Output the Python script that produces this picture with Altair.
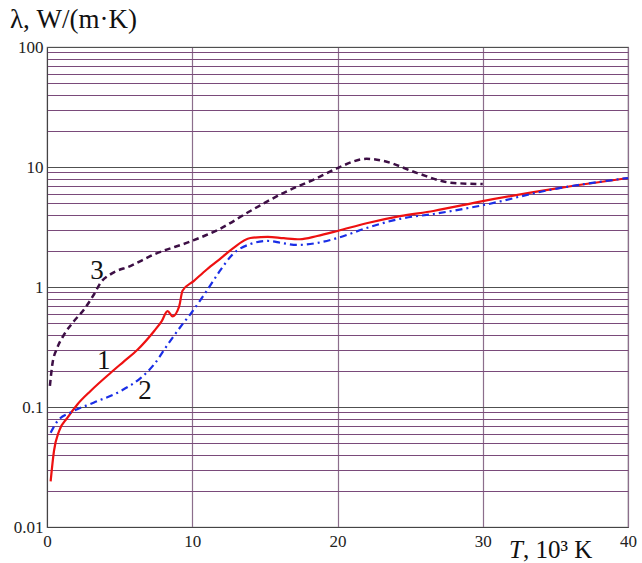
import altair as alt
import pandas as pd

# Curve 1 (red, solid)
c1_x = [0.25, 0.48, 0.83, 1.4, 2.09, 3.0, 4.39, 5.3, 6.23, 7.38, 7.9, 8.3, 8.64, 9.1, 9.33, 10.1, 11.0, 12.0, 12.8, 14.0, 15.2, 16.3, 17.4, 18.6, 20.0, 22.0, 24.3, 26.6, 30.0, 35.0, 40.0]
c1_y = [0.024, 0.043, 0.063, 0.081, 0.105, 0.136, 0.193, 0.24, 0.30, 0.43, 0.52, 0.63, 0.57, 0.69, 0.93, 1.12, 1.4, 1.75, 2.1, 2.56, 2.62, 2.55, 2.5, 2.66, 2.93, 3.4, 3.9, 4.3, 5.2, 6.6, 8.1]
# Curve 2 (blue, dash-dot)
c2_x = [0.25, 0.71, 1.63, 3.24, 5.08, 6.46, 7.38, 8.3, 9.33, 9.9, 11.0, 11.9, 12.8, 14.0, 15.2, 16.2, 17.2, 18.6, 20.0, 22.0, 24.3, 26.6, 30.0, 34.5, 40.0]
c2_y = [0.061, 0.076, 0.09, 0.109, 0.136, 0.175, 0.227, 0.33, 0.49, 0.6, 0.93, 1.36, 1.88, 2.28, 2.42, 2.32, 2.24, 2.33, 2.56, 3.1, 3.7, 4.06, 4.8, 6.4, 8.1]
# Curve 3 (dark purple, dashed)
c3_x = [0.2, 0.37, 0.71, 1.17, 1.86, 2.55, 3.24, 3.7, 4.39, 5.77, 7.38, 9.9, 11.9, 14.0, 16.3, 18.6, 20.0, 22.0, 23.2, 25.5, 27.8, 30.0]
c3_y = [0.15, 0.227, 0.312, 0.40, 0.52, 0.65, 0.87, 1.09, 1.28, 1.5, 1.87, 2.4, 3.05, 4.3, 6.1, 8.1, 9.8, 11.7, 11.2, 8.9, 7.4, 7.2]

# Curve labels
lab_text = ["1", "2", "3"]
lab_x = [3.9, 6.75, 3.45]
lab_y = [0.24, 0.136, 1.36]

x_ticks = [0, 10, 20, 30, 40]
y_ticks = [round(k * 10 ** e, 10) for e in range(-2, 2) for k in range(1, 10)] + [100]

FONT = "Liberation Serif, Times New Roman, DejaVu Serif, serif"

d1 = pd.DataFrame({"x": c1_x, "y": c1_y, "o": range(len(c1_x))})
d2 = pd.DataFrame({"x": c2_x, "y": c2_y, "o": range(len(c2_x))})
d3 = pd.DataFrame({"x": c3_x, "y": c3_y, "o": range(len(c3_x))})
dl = pd.DataFrame({"t": lab_text, "x": lab_x, "y": lab_y})

is_decade = "abs(log(datum.value)/LN10 - round(log(datum.value)/LN10)) < 0.001"

xs = alt.X("x:Q", scale=alt.Scale(domain=[0, 40], nice=False, zero=False),
           axis=alt.Axis(values=x_ticks, title=None, grid=True, gridColor="#8c6e8c",
                         gridWidth=1.2, ticks=False, labelFont=FONT, labelFontSize=17,
                         labelColor="#222", labelPadding=6, domainColor="#444",
                         labelFlush=False))
ys = alt.Y("y:Q", scale=alt.Scale(type="log", domain=[0.01, 100], nice=False),
           axis=alt.Axis(values=y_ticks, title=None, grid=True,
                         gridColor={"condition": {"test": is_decade, "value": "#505050"}, "value": "#7a4a7a"},
                         gridWidth=1.2, ticks=False, labelFont=FONT, labelFontSize=17,
                         labelColor="#222", labelPadding=4, domainColor="#444",
                         labelExpr=is_decade + " ? toString(datum.value) : ''"))

l1 = alt.Chart(d1).mark_line(color="#ee1111", strokeWidth=2.2, interpolate="monotone").encode(
    x=xs, y=ys, order="o:Q")
l2 = alt.Chart(d2).mark_line(color="#1a2ee6", strokeWidth=2.2, strokeDash=[7, 4, 2, 4],
                             interpolate="monotone").encode(x="x:Q", y="y:Q", order="o:Q")
l3 = alt.Chart(d3).mark_line(color="#3d0f45", strokeWidth=2.5, strokeDash=[6, 4],
                             interpolate="monotone").encode(x="x:Q", y="y:Q", order="o:Q")

labels = alt.Chart(dl).mark_text(font=FONT, fontSize=27, color="#111", align="center",
                                 baseline="middle").encode(x="x:Q", y="y:Q", text="t:N")

ytitle = alt.Chart(pd.DataFrame({"t": ["λ, W/(m·K)"]})).mark_text(
    font=FONT, fontSize=27, color="#111", align="left", baseline="alphabetic").encode(
    x=alt.value(-37), y=alt.value(-19), text="t:N")
xt1 = alt.Chart(pd.DataFrame({"t": ["T"]})).mark_text(
    font=FONT, fontSize=25, fontStyle="italic", color="#111", align="left", baseline="alphabetic").encode(
    x=alt.value(462), y=alt.value(511), text="t:N")
xt2 = alt.Chart(pd.DataFrame({"t": [", 10³ K"]})).mark_text(
    font=FONT, fontSize=25, color="#111", align="left", baseline="alphabetic").encode(
    x=alt.value(476), y=alt.value(511), text="t:N")

chart = alt.layer(l1, l2, l3, labels, ytitle, xt1, xt2).properties(
    width=581, height=480,
    autosize=alt.AutoSizeParams(type="none"),
    padding={"left": 47, "top": 47, "right": 14, "bottom": 36},
    background="white",
).configure_view(stroke="#8a8a8a", strokeWidth=1.2)

chart.save("out.html", embed_options={"renderer": "svg", "actions": False})
